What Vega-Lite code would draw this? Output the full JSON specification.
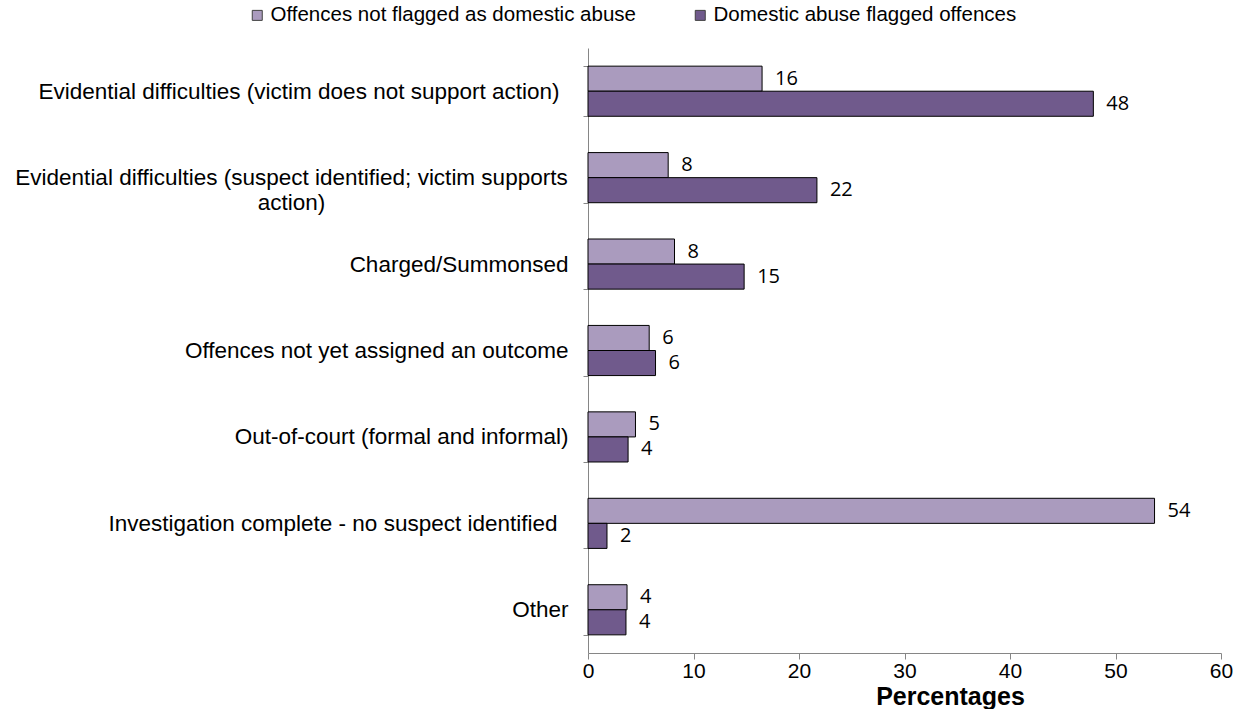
{
  "$schema": "https://vega.github.io/schema/vega-lite/v6.json",
  "width": 633,
  "height": 605,
  "autosize": "none",
  "padding": {"left": 588, "top": 48, "right": 23, "bottom": 56},
  "background": "white",
  "config": {"view": {"stroke": null}, "font": "Liberation Sans"},
  "data": {
    "values": [
      {"category": "Evidential difficulties (victim does not support action)", "series": "Offences not flagged as domestic abuse", "pct": 16.5, "label": "16"},
      {"category": "Evidential difficulties (victim does not support action)", "series": "Domestic abuse flagged offences", "pct": 47.9, "label": "48"},
      {"category": "Evidential difficulties (suspect identified; victim supports action)", "series": "Offences not flagged as domestic abuse", "pct": 7.6, "label": "8"},
      {"category": "Evidential difficulties (suspect identified; victim supports action)", "series": "Domestic abuse flagged offences", "pct": 21.7, "label": "22"},
      {"category": "Charged/Summonsed", "series": "Offences not flagged as domestic abuse", "pct": 8.2, "label": "8"},
      {"category": "Charged/Summonsed", "series": "Domestic abuse flagged offences", "pct": 14.8, "label": "15"},
      {"category": "Offences not yet assigned an outcome", "series": "Offences not flagged as domestic abuse", "pct": 5.8, "label": "6"},
      {"category": "Offences not yet assigned an outcome", "series": "Domestic abuse flagged offences", "pct": 6.4, "label": "6"},
      {"category": "Out-of-court (formal and informal)", "series": "Offences not flagged as domestic abuse", "pct": 4.5, "label": "5"},
      {"category": "Out-of-court (formal and informal)", "series": "Domestic abuse flagged offences", "pct": 3.8, "label": "4"},
      {"category": "Investigation complete - no suspect identified", "series": "Offences not flagged as domestic abuse", "pct": 53.7, "label": "54"},
      {"category": "Investigation complete - no suspect identified", "series": "Domestic abuse flagged offences", "pct": 1.8, "label": "2"},
      {"category": "Other", "series": "Offences not flagged as domestic abuse", "pct": 3.7, "label": "4"},
      {"category": "Other", "series": "Domestic abuse flagged offences", "pct": 3.6, "label": "4"}
    ]
  },
  "encoding": {
    "y": {
      "field": "category",
      "type": "nominal",
      "sort": [
        "Evidential difficulties (victim does not support action)",
        "Evidential difficulties (suspect identified; victim supports action)",
        "Charged/Summonsed",
        "Offences not yet assigned an outcome",
        "Out-of-court (formal and informal)",
        "Investigation complete - no suspect identified",
        "Other"
      ],
      "scale": {"paddingInner": 0.42, "paddingOuter": 0.21},
      "axis": {
        "title": null,
        "domainColor": "#868686",
        "tickColor": "#868686",
        "tickBand": "extent",
        "tickSize": 5,
        "labelFont": "Liberation Sans",
        "labelFontSize": 22.5,
        "labelColor": "#000000",
        "labelLimit": 0,
        "labelBaseline": "middle",
        "labelExpr": "datum.value == 'Evidential difficulties (suspect identified; victim supports action)' ? ['Evidential difficulties (suspect identified; victim supports', 'action)'] : datum.value",
        "labelAlign": {"condition": {"test": "datum.value == 'Evidential difficulties (suspect identified; victim supports action)'", "value": "center"}, "value": "right"},
        "labelPadding": {"condition": [
          {"test": "datum.value == 'Evidential difficulties (suspect identified; victim supports action)'", "value": 292},
          {"test": "datum.value == 'Evidential difficulties (victim does not support action)'", "value": 24},
          {"test": "datum.value == 'Investigation complete - no suspect identified'", "value": 26}
        ], "value": 15}
      }
    },
    "yOffset": {
      "field": "series",
      "type": "nominal",
      "sort": ["Offences not flagged as domestic abuse", "Domestic abuse flagged offences"]
    },
    "x": {
      "field": "pct",
      "type": "quantitative",
      "scale": {"domain": [0, 60], "nice": false},
      "axis": {
        "title": "Percentages",
        "titleFont": "Liberation Sans",
        "titleFontSize": 25,
        "titleFontWeight": "bold",
        "titleColor": "#000000",
        "titleX": 362,
        "titleY": 51,
        "titleBaseline": "alphabetic",
        "titleAnchor": "middle",
        "values": [0, 10, 20, 30, 40, 50, 60],
        "grid": false,
        "domainColor": "#868686",
        "tickColor": "#868686",
        "tickSize": 6,
        "labelFont": "Liberation Sans",
        "labelFontSize": 21,
        "labelColor": "#000000",
        "labelPadding": 1,
        "labelFlush": false
      }
    }
  },
  "layer": [
    {
      "mark": {"type": "bar", "stroke": "#000000", "strokeWidth": 1},
      "encoding": {
        "color": {
          "field": "series",
          "type": "nominal",
          "scale": {
            "domain": ["Offences not flagged as domestic abuse", "Domestic abuse flagged offences"],
            "range": ["#AA9BBE", "#705A8C"]
          },
          "legend": {
            "title": null,
            "orient": "none",
            "legendX": -341,
            "legendY": -43,
            "direction": "horizontal",
            "symbolType": "square",
            "symbolSize": 100,
            "symbolStrokeColor": "#404040",
            "symbolStrokeWidth": 1,
            "symbolOpacity": 1,
            "labelFont": "Liberation Sans",
            "labelFontSize": 20.5,
            "labelColor": "#000000",
            "labelOffset": 3,
            "columnPadding": 54,
            "labelLimit": 0
          }
        }
      }
    },
    {
      "mark": {"type": "text", "align": "left", "baseline": "middle", "dx": 13, "font": "Open Sans", "fontSize": 20, "color": "#000000"},
      "encoding": {
        "text": {"field": "label"}
      }
    }
  ]
}
